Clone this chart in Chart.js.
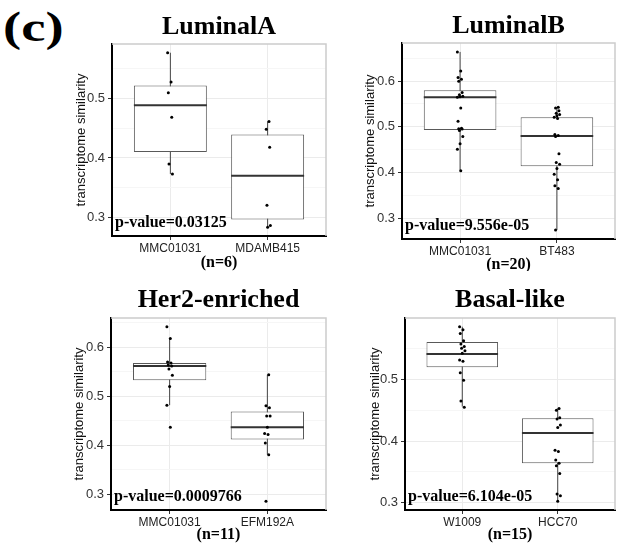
<!DOCTYPE html>
<html>
<head>
<meta charset="utf-8">
<script src="https://cdn.jsdelivr.net/npm/chart.js@4.4.0/dist/chart.umd.min.js"></script>
<style>
  body { margin: 0; background: #fff; width: 618px; height: 543px; position: relative; overflow: hidden; }
  canvas { position: absolute; }
  #tag { position: absolute; left: 3px; top: 6px; font: bold 42px 'Liberation Serif', serif; line-height: 42px;
         transform: scaleX(1.3); transform-origin: left top; }
</style>
</head>
<body>
<div id="tag">(c)</div>
<canvas id="lumA" width="330" height="271" style="left:0;top:0"></canvas>
<canvas id="lumB" width="309" height="271" style="left:310px;top:0"></canvas>
<canvas id="her2" width="330" height="272" style="left:0;top:271px"></canvas>
<canvas id="basal" width="309" height="272" style="left:310px;top:271px"></canvas>
<script>
// LuminalA
const lumACats = ['MMC01031', 'MDAMB415'];
const lumALow = [0.373, 0.284];
const lumAQ1 = [0.410, 0.297];
const lumAMed = [0.488, 0.370];
const lumAQ3 = [0.521, 0.439];
const lumAHigh = [0.576, 0.461];
const lumAPts1 = [0.576, 0.527, 0.509, 0.468, 0.390, 0.373];
const lumAPts2 = [0.461, 0.448, 0.418, 0.321, 0.287, 0.284];
const lumATicks = [0.3, 0.4, 0.5];

// LuminalB
const lumBCats = ['MMC01031', 'BT483'];
const lumBLow = [0.404, 0.274];
const lumBQ1 = [0.493, 0.414];
const lumBMed = [0.565, 0.480];
const lumBQ3 = [0.580, 0.521];
const lumBHigh = [0.664, 0.543];
const lumBPts1 = [0.664, 0.622, 0.608, 0.604, 0.600, 0.575, 0.570, 0.567, 0.566, 0.565,
                  0.541, 0.512, 0.497, 0.496, 0.495, 0.492, 0.479, 0.463, 0.451, 0.404];
const lumBPts2 = [0.543, 0.541, 0.535, 0.530, 0.527, 0.524, 0.521, 0.518, 0.483, 0.481,
                  0.479, 0.441, 0.422, 0.418, 0.409, 0.396, 0.384, 0.371, 0.365, 0.274];
const lumBTicks = [0.3, 0.4, 0.5, 0.6];

// Her2-enriched
const her2Cats = ['MMC01031', 'EFM192A'];
const her2Low = [0.482, 0.381];
const her2Q1 = [0.533, 0.412];
const her2Med = [0.562, 0.437];
const her2Q3 = [0.568, 0.469];
const her2High = [0.618, 0.544];
const her2Pts1 = [0.642, 0.618, 0.570, 0.568, 0.564, 0.562, 0.556, 0.543, 0.520, 0.482, 0.437];
const her2Pts2 = [0.544, 0.481, 0.477, 0.460, 0.460, 0.437, 0.424, 0.422, 0.405, 0.381, 0.286];
const her2Ticks = [0.3, 0.4, 0.5, 0.6];

// Basal-like
const basalCats = ['W1009', 'HCC70'];
const basalLow = [0.456, 0.302];
const basalQ1 = [0.520, 0.364];
const basalMed = [0.5415, 0.413];
const basalQ3 = [0.561, 0.437];
const basalHigh = [0.586, 0.453];
const basalPts1 = [0.586, 0.581, 0.575, 0.563, 0.558, 0.554, 0.551, 0.547, 0.543, 0.532,
                   0.530, 0.511, 0.499, 0.465, 0.455];
const basalPts2 = [0.453, 0.450, 0.438, 0.436, 0.426, 0.422, 0.385, 0.383, 0.369, 0.364,
                   0.360, 0.347, 0.314, 0.311, 0.302];
const basalTicks = [0.3, 0.4, 0.5];

const SERIF = "'Liberation Serif', 'Times New Roman', serif";
const SANS = "'Liberation Sans', Arial, sans-serif";
const BOX_W = 0.75;

// small fixed horizontal spread for the dots
const jitter = i => ((i * 5) % 9 - 4) * 0.007;

const isMajor = v => Math.abs(v * 10 - Math.round(v * 10)) < 1e-6;

// light grey frame on the top and right edges of the panel
const framePlugin = {
  id: 'frame',
  beforeDatasetsDraw(chart) {
    const { ctx, chartArea: a } = chart;
    ctx.save();
    ctx.strokeStyle = '#cccccc';
    ctx.lineWidth = 1.5;
    ctx.beginPath();
    ctx.moveTo(a.left, a.top);
    ctx.lineTo(a.right, a.top);
    ctx.lineTo(a.right, a.bottom);
    ctx.stroke();
    ctx.restore();
  }
};

const pvalPlugin = {
  id: 'pval',
  afterDatasetsDraw(chart, args, opts) {
    const { ctx, chartArea: a } = chart;
    ctx.save();
    ctx.font = 'bold 16px ' + SERIF;
    ctx.fillStyle = '#000';
    ctx.textBaseline = 'alphabetic';
    ctx.fillText(opts.text, a.left + 3, a.bottom - 9);
    ctx.restore();
  }
};

function makePanel(id, title, cats, low, q1, med, q3, high, pts1, pts2, ticks, pText, nText, lay) {
  const boxes = [0, 1].map(i => ({ x: i + 1, y: [q1[i], q3[i]] }));
  const whiskers = [];
  const medians = [];
  [0, 1].forEach(i => {
    whiskers.push({ x: i + 1, y: low[i] }, { x: i + 1, y: high[i] }, { x: i + 1, y: null });
    medians.push({ x: i + 1 - BOX_W / 2, y: med[i] }, { x: i + 1 + BOX_W / 2, y: med[i] }, { x: i + 1.5, y: null });
  });
  const dots = pts1.map((v, i) => ({ x: 1 + jitter(i), y: v }))
    .concat(pts2.map((v, i) => ({ x: 2 + jitter(i + 3), y: v })));

  const all = pts1.concat(pts2, low, high);
  const lo = Math.min(...all), hi = Math.max(...all);
  const pad = (hi - lo) * 0.05;
  const yMin = lo - pad, yMax = hi + pad;

  new Chart(document.getElementById(id), {
    type: 'bar',
    data: {
      datasets: [
        { type: 'scatter', data: dots, backgroundColor: '#000', borderWidth: 0, pointRadius: 1.5, order: 0 },
        { type: 'line', data: medians, borderColor: '#333', borderWidth: 2, pointRadius: 0, order: 1 },
        { type: 'bar', data: boxes, backgroundColor: '#fff', borderColor: '#595959', borderWidth: 1,
          borderSkipped: false, barPercentage: BOX_W, categoryPercentage: 1, order: 2 },
        { type: 'line', data: whiskers, borderColor: '#444', borderWidth: 1, pointRadius: 0, order: 3 }
      ]
    },
    options: {
      responsive: false,
      animation: false,
      events: [],
      layout: { padding: { left: 0, right: lay.padRight, top: 0, bottom: 0 } },
      plugins: {
        legend: { display: false },
        tooltip: { enabled: false },
        title: {
          display: true, text: title, fullSize: false, color: '#000',
          font: { family: SERIF, size: 26, weight: 'bold', lineHeight: 1.2 },
          padding: { top: lay.titleTop, bottom: lay.titleBottom }
        },
        pval: { text: pText }
      },
      scales: {
        x: {
          type: 'linear', min: 0.4, max: 2.6, offset: false,
          afterBuildTicks: s => { s.ticks = [{ value: 1 }, { value: 2 }]; },
          afterFit: s => { s.height = lay.xHeight; },
          ticks: { callback: v => cats[v - 1], color: '#222', font: { family: SANS, size: 12 }, padding: 1, maxRotation: 0 },
          grid: { offset: false, color: '#ebebeb', tickColor: '#333', tickLength: 4 },
          border: { color: '#000', width: 2 },
          title: { display: true, text: nText, color: '#000',
                   font: { family: SERIF, size: 16, weight: 'bold', lineHeight: 1 }, padding: { top: 0, bottom: lay.nBottom } }
        },
        y: {
          type: 'linear', min: yMin, max: yMax,
          afterBuildTicks: s => {
            const vals = [];
            ticks.forEach(t => { vals.push(t); vals.push(+(t - 0.05).toFixed(2)); vals.push(+(t + 0.05).toFixed(2)); });
            const uniq = [...new Set(vals)].filter(v => v >= yMin && v <= yMax).sort((a, b) => a - b);
            s.ticks = uniq.map(v => ({ value: v }));
          },
          afterFit: s => { s.width = lay.yWidth; },
          ticks: {
            callback: v => (ticks.some(t => Math.abs(t - v) < 1e-6) ? v.toFixed(1) : ''),
            color: '#333', font: { family: SANS, size: 13 }, padding: 3
          },
          grid: {
            color: c => (isMajor(c.tick.value) ? '#ebebeb' : '#f6f6f6'),
            tickColor: c => (isMajor(c.tick.value) ? '#333' : 'rgba(0,0,0,0)'),
            tickLength: 4
          },
          border: { color: '#000', width: 2 },
          title: { display: true, text: 'transcriptome similarity', color: '#111',
                   font: { family: SANS, size: 13, lineHeight: 1.2 }, padding: { top: lay.yTitle, bottom: 0 } }
        }
      }
    },
    plugins: [framePlugin, pvalPlugin]
  });
}

makePanel('lumA', 'LuminalA', lumACats, lumALow, lumAQ1, lumAMed, lumAQ3, lumAHigh, lumAPts1, lumAPts2,
  lumATicks, 'p-value=0.03125', '(n=6)',
  { padRight: 2, titleTop: 12, titleBottom: 0.8, xHeight: 35, nBottom: 0, yWidth: 112, yTitle: 74 });
makePanel('lumB', 'LuminalB', lumBCats, lumBLow, lumBQ1, lumBMed, lumBQ3, lumBHigh, lumBPts1, lumBPts2,
  lumBTicks, 'p-value=9.556e-05', '(n=20)',
  { padRight: 0, titleTop: 11, titleBottom: 0.8, xHeight: 32, nBottom: -2, yWidth: 92, yTitle: 53 });
makePanel('her2', 'Her2-enriched', her2Cats, her2Low, her2Q1, her2Med, her2Q3, her2High, her2Pts1, her2Pts2,
  her2Ticks, 'p-value=0.0009766', '(n=11)',
  { padRight: 2, titleTop: 13.4, titleBottom: 2.4, xHeight: 33, nBottom: 0, yWidth: 111, yTitle: 72 });
makePanel('basal', 'Basal-like', basalCats, basalLow, basalQ1, basalMed, basalQ3, basalHigh, basalPts1, basalPts2,
  basalTicks, 'p-value=6.104e-05', '(n=15)',
  { padRight: 0, titleTop: 13.4, titleBottom: 2.4, xHeight: 33, nBottom: 0, yWidth: 95, yTitle: 58 });
</script>
</body>
</html>
